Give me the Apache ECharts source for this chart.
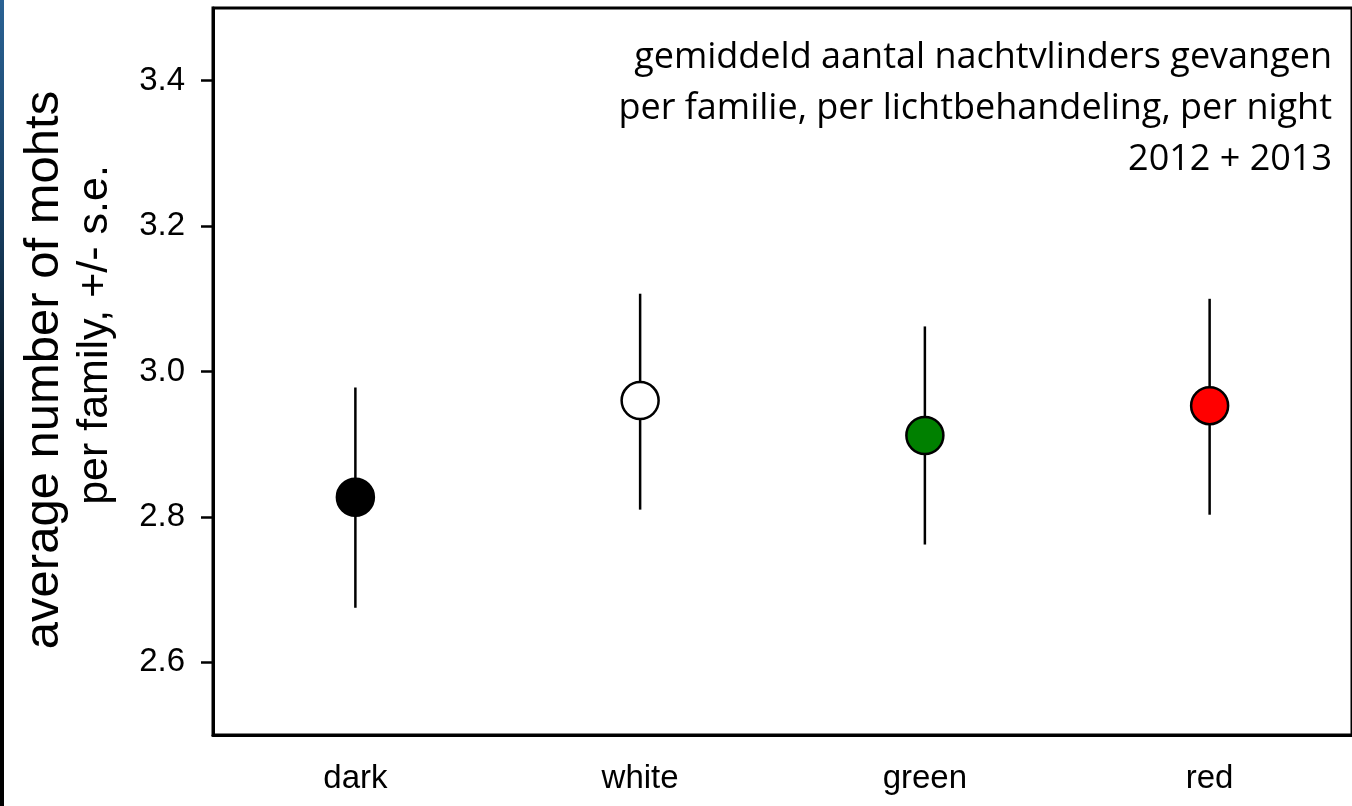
<!DOCTYPE html>
<html>
<head>
<meta charset="utf-8">
<script src="https://cdn.jsdelivr.net/npm/echarts@6/dist/echarts.min.js"></script>
<style>
  html, body { margin: 0; padding: 0; background: #fff; }
  #chart { width: 1352px; height: 806px; }
</style>
</head>
<body>
<div id="chart"></div>
<script>
var categories = ['dark', 'white', 'green', 'red'];
var means = [2.827, 2.960, 2.912, 2.953];
var upper = [2.978, 3.107, 3.062, 3.100];
var lower = [2.675, 2.810, 2.762, 2.803];
var dotColors = ['#000000', '#ffffff', '#008000', '#ff0000'];
var yTicks = [2.6, 2.8, 3.0, 3.2, 3.4];

var myChart = echarts.init(document.getElementById('chart'));

var barData = categories.map(function (c, i) {
    return [i, lower[i], upper[i]];
});
var dotData = categories.map(function (c, i) {
    return {value: [i, means[i]], itemStyle: {color: dotColors[i]}};
});

var option = {
    animation: false,
    backgroundColor: '#fff',
    grid: {
        left: 213,
        top: 8,
        width: 1152,
        height: 727,
        show: true,
        borderColor: '#000',
        borderWidth: 3
    },
    xAxis: {
        type: 'category',
        data: categories,
        axisLine: {lineStyle: {color: '#000', width: 3}},
        axisTick: {alignWithLabel: true, length: 13, lineStyle: {color: '#000', width: 2.5}},
        axisLabel: {
            color: '#000',
            fontFamily: 'Liberation Sans',
            fontSize: 33,
            margin: 27
        },
        splitLine: {show: false}
    },
    yAxis: {
        type: 'value',
        min: 2.5,
        max: 3.5,
        axisLine: {show: true, lineStyle: {color: '#000', width: 3}},
        axisTick: {show: true, length: 12, customValues: yTicks, lineStyle: {color: '#000', width: 2.5}},
        axisLabel: {
            color: '#000',
            fontFamily: 'Liberation Sans',
            fontSize: 33,
            margin: 28,
            customValues: yTicks,
            formatter: function (v) { return v.toFixed(1); }
        },
        splitLine: {show: false}
    },
    series: [
        {
            // error bars (+/- s.e.)
            type: 'custom',
            data: barData,
            z: 1,
            renderItem: function (params, api) {
                var top = api.coord([api.value(0), api.value(2)]);
                var bot = api.coord([api.value(0), api.value(1)]);
                return {
                    type: 'line',
                    shape: {x1: top[0], y1: top[1], x2: bot[0], y2: bot[1]},
                    style: {stroke: '#000', lineWidth: 2.5}
                };
            }
        },
        {
            type: 'scatter',
            data: dotData,
            z: 3,
            symbol: 'circle',
            symbolSize: 37,
            itemStyle: {borderColor: '#000', borderWidth: 2.5, opacity: 1}
        }
    ],
    graphic: [
        {
            type: 'rect',
            left: 0,
            top: 0,
            shape: {width: 4, height: 806},
            style: {
                fill: new echarts.graphic.LinearGradient(0, 0, 0, 1, [
                    {offset: 0, color: '#2a6294'},
                    {offset: 0.3, color: '#163a5a'},
                    {offset: 0.6, color: '#000000'},
                    {offset: 1, color: '#000000'}
                ])
            }
        },
        {
            type: 'text',
            x: 44,
            y: 370,
            rotation: Math.PI / 2,
            style: {
                text: 'average number of mohts',
                fontFamily: 'Liberation Sans',
                fontSize: 49,
                fill: '#000',
                align: 'center',
                verticalAlign: 'middle'
            }
        },
        {
            type: 'text',
            x: 95,
            y: 335,
            rotation: Math.PI / 2,
            style: {
                text: 'per family, +/- s.e.',
                fontFamily: 'Liberation Sans',
                fontSize: 43,
                fill: '#000',
                align: 'center',
                verticalAlign: 'middle'
            }
        },
        {
            type: 'text',
            x: 1332,
            y: 109,
            style: {
                text: 'gemiddeld aantal nachtvlinders gevangen\nper familie, per lichtbehandeling, per night\n2012 + 2013',
                fontFamily: 'Open Sans',
                fontSize: 36,
                lineHeight: 51,
                fill: '#000',
                align: 'right',
                verticalAlign: 'middle'
            }
        }
    ]
};

myChart.setOption(option);
</script>
</body>
</html>
